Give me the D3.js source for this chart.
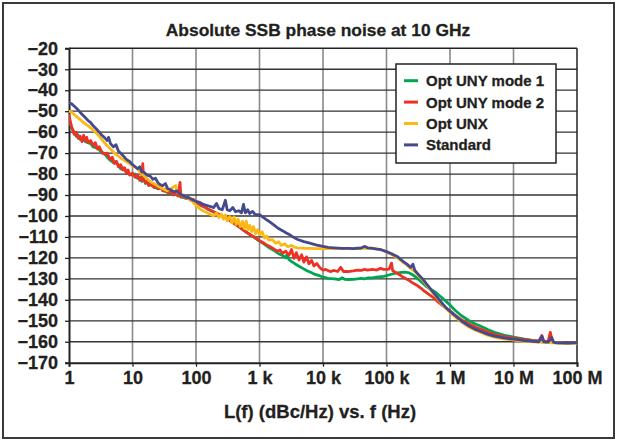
<!DOCTYPE html>
<html><head><meta charset="utf-8">
<script src="https://cdn.jsdelivr.net/npm/d3@7"></script>
<style>
html,body{margin:0;padding:0;background:#fff;}
svg{display:block;}
text{font-family:'Liberation Sans',Arial,sans-serif;font-weight:bold;fill:#231f20;stroke:#231f20;stroke-width:0.3px;}
</style></head>
<body>
<svg id="chart" width="618" height="442"></svg>
<script>
const chartTitle = "Absolute SSB phase noise at 10 GHz";
const xAxisTitle = "L(f) (dBc/Hz) vs. f (Hz)";
const xTickValues = [1,10,100,1e3,1e4,1e5,1e6,1e7,1e8];
const xTickLabels = ["1","10","100","1 k","10 k","100 k","1 M","10 M","100 M"];
const yTickValues = [-20,-30,-40,-50,-60,-70,-80,-90,-100,-110,-120,-130,-140,-150,-160,-170];
const seriesNames = ["Opt UNY mode 1","Opt UNY mode 2","Opt UNX","Standard"];
const seriesColors = ["#00a551","#ee3124","#fdb813","#454a8f"];

const optUnyMode1 = [[1,-53],[1.05,-56],[1.1,-58],[1.2,-60],[1.3,-62],[1.4,-61.5],[1.5,-63.5],[1.6,-63],[1.8,-64.5],[2,-65],[2.2,-65.5],[2.4,-67],[2.7,-67.5],[3,-68.5],[3.3,-70],[3.6,-70],[4,-72],[4.5,-73.5],[5,-74.5],[5.5,-74],[6,-76],[6.5,-77.5],[7,-77],[8,-79],[9,-80],[10,-80.5],[11,-80],[12,-82],[13,-81.5],[14,-83.5],[15,-82.5],[16,-84.5],[18,-84],[20,-85.5],[22,-86],[25,-87],[28,-86.5],[31,-88],[35,-88.5],[40,-89],[45,-89.5],[50,-90],[55,-90.5],[60,-91],[70,-91.5],[80,-92],[90,-92.5],[100,-93.5],[120,-95],[140,-96],[160,-97],[200,-98.5],[260,-100],[300,-101],[350,-102.3],[400,-103.5],[460,-104.8],[530,-106.3],[600,-107.5],[700,-108.8],[800,-110],[900,-111],[1000,-112],[1200,-113.5],[1400,-115],[1600,-116],[1800,-117],[2000,-118],[2300,-118.8],[2600,-120],[2700,-118.5],[2900,-120.8],[3300,-122],[3700,-123],[4200,-124],[4800,-125],[5500,-126],[6500,-127],[7500,-127.9],[9000,-128.6],[10000,-129.2],[12000,-129.8],[15000,-130],[18000,-130.3],[20000,-129.5],[22000,-130.2],[25000,-130.3],[30000,-130.2],[35000,-130],[40000,-129.8],[45000,-130],[50000,-129.6],[60000,-129.5],[70000,-129.2],[80000,-129],[90000,-128.8],[100000,-128.5],[120000,-127.8],[140000,-127.3],[160000,-127],[190000,-126.8],[220000,-127],[250000,-127.8],[280000,-128.8],[320000,-130.3],[370000,-132],[430000,-133.8],[500000,-135],[600000,-136.5],[700000,-138.3],[850000,-140.5],[1e6,-142.5],[1.2e6,-145],[1.5e6,-147.5],[2e6,-150],[2.5e6,-151.5],[3e6,-152.5],[4e6,-154.3],[5e6,-155.5],[7e6,-156.8],[1e7,-157.8],[1.5e7,-158.8],[2e7,-159.3],[3e7,-159.8],[4e7,-160.3],[5e7,-160.5],[7e7,-160.7],[1e8,-160.5]];

const optUnyMode2 = [[1,-52],[1.05,-55],[1.1,-57.5],[1.15,-59],[1.2,-61],[1.3,-60],[1.4,-63],[1.5,-62],[1.6,-64.5],[1.7,-61.5],[1.8,-64],[1.9,-62.5],[2,-65],[2.2,-64],[2.4,-66.5],[2.6,-65],[2.8,-68],[3,-67],[3.3,-69.5],[3.6,-70.5],[4,-70],[4.4,-73],[4.8,-72],[5.2,-75],[5.6,-74],[6,-76.5],[6.5,-75.5],[7,-78],[7.5,-77],[8,-79.5],[8.5,-78],[9,-80.5],[10,-79.5],[11,-81.5],[12,-80.5],[13,-83],[14,-82],[14.5,-75],[15,-83],[16,-84],[17,-83],[18,-85.5],[20,-84.5],[22,-86.5],[24,-85.5],[26,-87],[28,-86],[30,-88],[33,-87],[36,-89],[40,-88],[44,-90],[48,-89],[52,-90.5],[56,-84],[58,-91],[62,-90],[68,-91.5],[75,-91],[82,-92.5],[90,-92],[100,-93.5],[110,-94],[120,-95],[135,-95.5],[150,-96.5],[170,-97.3],[200,-98.3],[250,-99.8],[280,-100.5],[320,-101.5],[360,-102.7],[400,-103.6],[450,-104.6],[500,-105.6],[560,-106.7],[630,-107.8],[700,-108.8],[800,-109.8],[900,-110.8],[1000,-111.8],[1150,-112.8],[1300,-113.8],[1500,-114.8],[1700,-115.8],[1900,-116.8],[2100,-116.2],[2300,-117.8],[2600,-116.8],[2900,-118.8],[3200,-116],[3500,-120.2],[3800,-117.5],[4200,-121],[4600,-118.5],[5000,-122],[5500,-119.5],[6000,-122.8],[6600,-121.2],[7200,-123.8],[8000,-122.7],[9000,-124.8],[10000,-125.8],[11000,-125.5],[13000,-126.5],[15000,-126],[17000,-126.5],[19000,-124.5],[21000,-126.5],[25000,-126.5],[30000,-126.2],[35000,-125.8],[40000,-126],[45000,-125.5],[50000,-125.8],[60000,-125.5],[70000,-125.8],[80000,-125],[90000,-125.5],[100000,-125.5],[110000,-125.3],[120000,-122.5],[125000,-126],[140000,-127],[160000,-128],[190000,-129.5],[220000,-130.5],[260000,-132],[300000,-133],[350000,-134.5],[400000,-136],[470000,-137.5],[550000,-139],[650000,-141],[750000,-142.5],[900000,-144.3],[1e6,-145.2],[1.2e6,-147.3],[1.5e6,-149.5],[2e6,-151.5],[2.5e6,-153],[3e6,-154],[4e6,-155.5],[5e6,-156.5],[7e6,-157.5],[1e7,-158.3],[1.5e7,-159],[2e7,-159.5],[2.5e7,-159.7],[2.8e7,-157],[3e7,-159.8],[3.5e7,-160],[3.8e7,-155.5],[4.1e7,-160.2],[5e7,-160.3],[7e7,-160.5],[1e8,-160.4]];

const optUnx = [[1,-50],[1.1,-50.5],[1.2,-51.5],[1.3,-52.5],[1.5,-54],[1.7,-55.5],[2,-57],[2.3,-58.5],[2.6,-60],[3,-62],[3.5,-64.5],[4,-66.5],[4.5,-68],[5,-69.5],[6,-71.5],[7,-73],[8,-74],[9,-75],[10,-76],[11,-76.5],[12,-77.5],[14,-80],[16,-81.5],[18,-83],[20,-84],[23,-85],[26,-86],[30,-87],[35,-88],[40,-87],[45,-86],[48,-85.5],[50,-88.5],[55,-89.5],[60,-90],[70,-91],[80,-92],[90,-93.5],[100,-95],[110,-96],[120,-97],[135,-97.8],[150,-98.5],[170,-99.3],[190,-100],[210,-98.5],[230,-100.8],[250,-99],[270,-101.5],[290,-99.5],[310,-102.3],[340,-100.3],[370,-103.3],[400,-100.5],[430,-104],[460,-101.5],[500,-105],[540,-102.5],[580,-106],[620,-102.5],[660,-106.5],[700,-104.5],[750,-107.5],[800,-105],[870,-108.5],[930,-106.5],[1000,-109],[1100,-107.5],[1200,-110.5],[1300,-109.5],[1400,-111.5],[1600,-111.3],[1800,-113],[2000,-112.3],[2200,-114],[2500,-113.3],[2800,-114.7],[3200,-114],[3600,-115],[4000,-115.2],[5000,-115.4],[6000,-115.5],[8000,-115.6],[10000,-115.6],[13000,-115.6],[16000,-115.6],[20000,-115.6],[25000,-115.5],[30000,-115.5],[40000,-115.4],[50000,-115.3],[60000,-115.4],[70000,-115.6],[80000,-115.9],[100000,-117.2],[120000,-118.4],[150000,-120],[180000,-122],[210000,-123.5],[240000,-125],[280000,-126.5],[320000,-128.5],[370000,-130.5],[430000,-133],[500000,-135.5],[600000,-138.5],[700000,-141],[850000,-144],[1e6,-146],[1.2e6,-148],[1.5e6,-150.5],[2e6,-153],[2.5e6,-154.5],[3e6,-155.5],[4e6,-157],[5e6,-157.8],[7e6,-158.6],[1e7,-159.2],[1.5e7,-159.8],[2e7,-160.1],[3e7,-160.3],[5e7,-160.6],[7e7,-160.8],[1e8,-160.6]];

const standard = [[1,-46],[1.1,-46.5],[1.2,-47.5],[1.3,-48.5],[1.4,-49.5],[1.5,-50.5],[1.6,-51.5],[1.8,-53],[2,-54.5],[2.2,-55.5],[2.4,-57],[2.7,-58.5],[3,-60],[3.3,-61.5],[3.6,-62.5],[4,-64],[4.2,-62.5],[4.5,-65.5],[5,-67],[5.5,-66],[6,-69],[7,-71],[8,-73],[9,-74],[10,-75.5],[11,-76.5],[12,-77.5],[13,-76.5],[14,-79],[15,-79],[17,-80.5],[19,-81],[21,-82.5],[23,-82],[25,-84],[27,-85],[30,-85.5],[33,-84.5],[36,-87],[40,-87.5],[45,-88.5],[50,-88],[55,-89.5],[60,-90],[70,-91],[80,-91.5],[90,-92.5],[100,-93],[115,-93.5],[130,-94.5],[150,-95],[170,-95.5],[190,-96],[210,-94],[230,-96.5],[260,-97],[290,-92.5],[310,-97],[340,-97.5],[380,-96],[420,-98],[470,-97.5],[520,-98.5],[560,-94.5],[600,-98.5],[650,-97],[700,-98.8],[780,-97.8],[850,-99.2],[950,-99.5],[1000,-99.3],[1100,-100.3],[1250,-101.5],[1400,-102.5],[1600,-103.8],[1800,-105],[2000,-106],[2300,-107],[2600,-108],[3000,-109],[3500,-110.3],[4000,-111.2],[5000,-112.2],[6000,-112.8],[7000,-113.4],[8000,-113.9],[10000,-114.5],[12000,-115],[15000,-115.2],[20000,-115.5],[25000,-115.5],[30000,-115.6],[35000,-115.4],[40000,-115.3],[45000,-114.5],[50000,-115.2],[60000,-115.5],[70000,-115.8],[80000,-116],[100000,-117],[120000,-118],[150000,-119.5],[180000,-121.5],[210000,-123],[240000,-124.5],[260000,-123],[280000,-126],[320000,-128],[370000,-130],[430000,-132.5],[500000,-135],[600000,-138],[700000,-140.5],[850000,-143.5],[1e6,-145.5],[1.2e6,-147.5],[1.5e6,-150],[2e6,-152.5],[2.5e6,-154],[3e6,-155],[4e6,-156.5],[5e6,-157.3],[7e6,-158.2],[1e7,-158.8],[1.5e7,-159.5],[2e7,-159.8],[2.5e7,-160],[2.8e7,-157.5],[3e7,-160],[3.5e7,-160.2],[4e7,-158],[4.3e7,-160.3],[5e7,-160.5],[6e7,-160.5],[7e7,-160.7],[8.5e7,-160.5],[1e8,-160.4]];

const seriesData = [optUnyMode1, optUnyMode2, optUnx, standard];

const svg = d3.select("#chart");
const W = 618, H = 442;
const plot = {left: 69, right: 577, top: 48.3, bottom: 362.7};

svg.append("rect").attr("x",3).attr("y",3).attr("width",W-7).attr("height",H-7)
  .attr("fill","#fff").attr("stroke","#3a3a3a").attr("stroke-width",2);

const x = d3.scaleLog().domain([1,1e8]).range([plot.left, plot.right]);
const y = d3.scaleLinear().domain([-170,-20]).range([plot.bottom, plot.top]);

// grid
const g = svg.append("g");
g.selectAll(".vg").data(xTickValues.slice(1,-1)).enter().append("line")
  .attr("x1",d=>x(d)).attr("x2",d=>x(d)).attr("y1",plot.top).attr("y2",plot.bottom)
  .attr("stroke","#8a8a8a").attr("stroke-width",1.6);
g.selectAll(".hg").data(yTickValues.slice(1,-1)).enter().append("line")
  .attr("x1",plot.left).attr("x2",plot.right).attr("y1",d=>y(d)).attr("y2",d=>y(d))
  .attr("stroke","#333").attr("stroke-width",1.3);
g.append("line").attr("x1",plot.left).attr("x2",plot.right).attr("y1",plot.top).attr("y2",plot.top).attr("stroke","#222").attr("stroke-width",1.5);
g.append("line").attr("x1",plot.right).attr("x2",plot.right).attr("y1",plot.top).attr("y2",plot.bottom).attr("stroke","#222").attr("stroke-width",1.5);

// axes
const yAxis = d3.axisLeft(y).tickValues(yTickValues).tickSize(4).tickPadding(7).tickFormat(d=>d3.format("d")(d));
const yg = svg.append("g").attr("transform",`translate(${plot.left},0)`).call(yAxis);
yg.select(".domain").attr("stroke","#222").attr("stroke-width",2);
yg.selectAll(".tick line").attr("stroke","#222").attr("stroke-width",1.3);
yg.selectAll(".tick text").attr("font-size",18).attr("fill","#231f20")
  .style("font-family","'Liberation Sans',Arial,sans-serif").style("font-weight","bold");

const xAxis = d3.axisBottom(x).tickValues(xTickValues).tickSize(4).tickPadding(5).tickFormat((d,i)=>xTickLabels[i]);
const xg = svg.append("g").attr("transform",`translate(0,${plot.bottom})`).call(xAxis);
xg.select(".domain").attr("stroke","#222").attr("stroke-width",2);
xg.selectAll(".tick line").attr("stroke","#222").attr("stroke-width",1.3);
xg.selectAll(".tick text").attr("font-size",18).attr("fill","#231f20")
  .style("font-family","'Liberation Sans',Arial,sans-serif").style("font-weight","bold");

// series
const line = d3.line().x(d=>x(d[0])).y(d=>y(d[1]));
svg.append("clipPath").attr("id","pc").append("rect")
  .attr("x",plot.left).attr("y",plot.top).attr("width",plot.right-plot.left).attr("height",plot.bottom-plot.top);
svg.append("g").attr("clip-path","url(#pc)").selectAll("path").data(seriesData).enter().append("path")
  .attr("d",line).attr("fill","none").attr("stroke",(d,i)=>seriesColors[i])
  .attr("stroke-width",2.8).attr("stroke-linejoin","round").attr("stroke-linecap","round");

// titles
svg.append("text").attr("x",318).attr("y",36).attr("text-anchor","middle")
  .attr("font-size",17.4).text(chartTitle);
svg.append("text").attr("x",320).attr("y",418).attr("text-anchor","middle")
  .attr("font-size",18.5).text(xAxisTitle);

// legend
const lg = svg.append("g");
lg.append("rect").attr("x",396).attr("y",64).attr("width",160).attr("height",99)
  .attr("fill","#fff").attr("stroke","#222").attr("stroke-width",1.5);
const items = lg.selectAll(".li").data(seriesNames).enter().append("g")
  .attr("transform",(d,i)=>`translate(0,${80.7 + i*21.4})`);
items.append("line").attr("x1",404).attr("x2",418).attr("y1",0).attr("y2",0)
  .attr("stroke",(d,i)=>seriesColors[i]).attr("stroke-width",3);
items.append("text").attr("x",426).attr("y",5.5).attr("font-size",15).text(d=>d);
</script>
</body></html>
